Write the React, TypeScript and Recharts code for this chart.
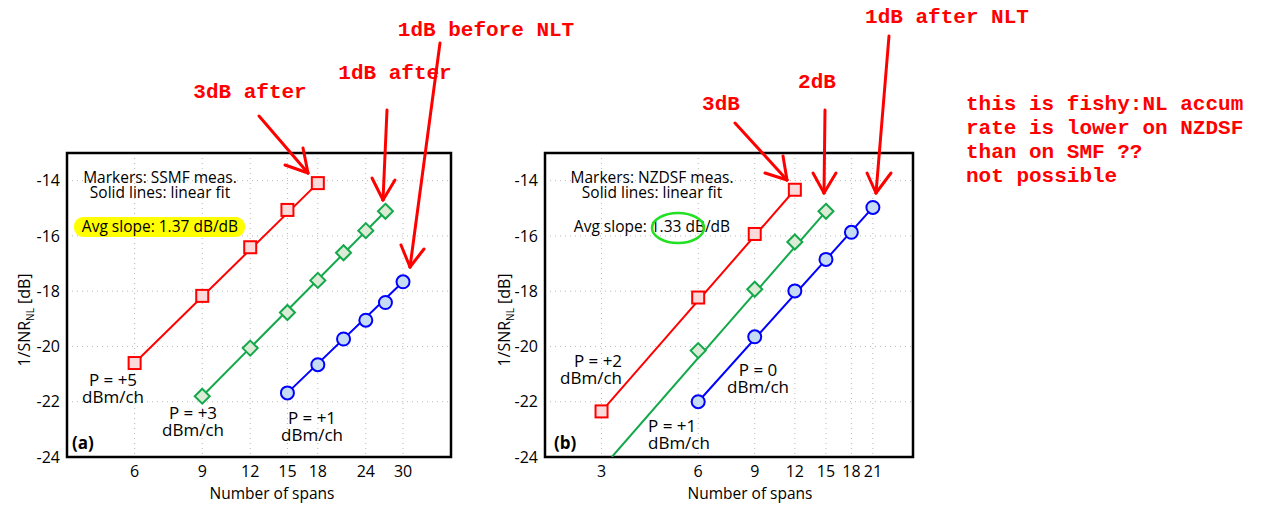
import React from 'react';
import { ComposedChart, Line, XAxis, YAxis, CartesianGrid, ReferenceArea } from 'recharts';

// panel (a): SSMF
const spansA5 = [6, 9, 12, 15, 18];
const snrA5 = [-20.6, -18.17, -16.41, -15.06, -14.09];
const spansA3 = [9, 12, 15, 18, 21, 24, 27];
const snrA3 = [-21.8, -20.06, -18.77, -17.61, -16.61, -15.81, -15.11];
const spansA1 = [15, 18, 21, 24, 27, 30];
const snrA1 = [-21.68, -20.66, -19.73, -19.05, -18.41, -17.66];

// panel (b): NZDSF
const spansB2 = [3, 6, 9, 12];
const snrB2 = [-22.35, -18.23, -15.93, -14.33];
const spansB1 = [6, 9, 12, 15];
const snrB1 = [-20.15, -17.93, -16.22, -15.11];
const spansB0 = [6, 9, 12, 15, 18, 21];
const snrB0 = [-22.0, -19.65, -17.99, -16.85, -15.87, -14.97];

// linear fit end points
const fitSpansA5 = [6, 18];
const fitSnrA5 = [-20.6, -14.09];
const fitSpansA3 = [9, 27];
const fitSnrA3 = [-21.8, -15.11];
const fitSpansA1 = [15, 30];
const fitSnrA1 = [-21.68, -17.66];
const fitSpansB2 = [3, 12];
const fitSnrB2 = [-22.35, -14.33];
const fitSpansB1 = [3.23, 15];
const fitSnrB1 = [-24, -15.11];
const fitSpansB0 = [6, 21];
const fitSnrB0 = [-22.0, -14.97];

const ticksA = [6, 9, 12, 15, 18, 24, 30];
const ticksB = [3, 6, 9, 12, 15, 18, 21];
const ticksY = [-24, -22, -20, -18, -16, -14];

const RED = '#ff0000';
const GREEN = '#13a84a';
const BLUE = '#0000ff';
const FONT = '"Open Sans", sans-serif';
const MONO = '"Liberation Mono", "DejaVu Sans Mono", monospace';

const pts = (n: number[], v: number[]) => n.map((x, i) => ({ n: x, v: v[i] }));

const Square = (p: any) => (
  <rect key={p.key ?? p.index} x={p.cx - 6} y={p.cy - 6} width={12} height={12} fill="#fadada" stroke={RED} strokeWidth={2} />
);
const Diamond = (p: any) => (
  <polygon
    key={p.key ?? p.index}
    points={`${p.cx},${p.cy - 7.5} ${p.cx + 7.5},${p.cy} ${p.cx},${p.cy + 7.5} ${p.cx - 7.5},${p.cy}`}
    fill="#dcebd6"
    stroke={GREEN}
    strokeWidth={2}
  />
);
const Circle = (p: any) => (
  <circle key={p.key ?? p.index} cx={p.cx} cy={p.cy} r={6.5} fill="#c6dcf3" stroke={BLUE} strokeWidth={2} />
);

interface S {
  fitN: number[];
  fitV: number[];
  n: number[];
  v: number[];
  color: string;
  dot: any;
}

const Panel = ({ domain, ticks, series, left, right, width }: { domain: number[]; ticks: number[]; series: S[]; left: number; right: number; width: number }) => (
  <ComposedChart width={width} height={508} margin={{ top: 153, right, bottom: 21, left }}>
    <CartesianGrid stroke="#b8b8b8" strokeDasharray="1 4" />
    <XAxis
      dataKey="n"
      type="number"
      scale="log"
      domain={domain}
      allowDataOverflow
      ticks={ticks}
      interval={0}
      tickLine={false}
      axisLine={false}
      tickSize={0}
      tickMargin={9}
      height={30}
      tick={{ fill: '#000', fontSize: 16, fontFamily: FONT }}
    />
    <YAxis
      type="number"
      domain={[-24, -13]}
      allowDataOverflow
      ticks={ticksY}
      interval={0}
      tickLine={false}
      axisLine={false}
      tickSize={0}
      tickMargin={7}
      width={50}
      tick={{ fill: '#000', fontSize: 16, fontFamily: FONT }}
    />
    <YAxis
      yAxisId="r"
      orientation="right"
      type="number"
      domain={[-24, -13]}
      ticks={ticksY}
      mirror
      width={0}
      axisLine={false}
      tickSize={5}
      tickFormatter={() => ''}
      tickLine={{ stroke: '#000', strokeWidth: 1.5 }}
    />
    <ReferenceArea x1={domain[0]} x2={domain[1]} y1={-24} y2={-13} fill="none" stroke="#000" strokeWidth={2.5} />
    {series.map((s, i) => (
      <Line
        key={`f${i}`}
        data={pts(s.fitN, s.fitV)}
        dataKey="v"
        stroke={s.color}
        strokeWidth={2}
        dot={false}
        activeDot={false}
        isAnimationActive={false}
      />
    ))}
    {series.map((s, i) => (
      <Line
        key={`m${i}`}
        data={pts(s.n, s.v)}
        dataKey="v"
        stroke="none"
        dot={s.dot}
        activeDot={false}
        isAnimationActive={false}
      />
    ))}
  </ComposedChart>
);

const seriesA: S[] = [
  { fitN: fitSpansA5, fitV: fitSnrA5, n: spansA5, v: snrA5, color: RED, dot: Square },
  { fitN: fitSpansA3, fitV: fitSnrA3, n: spansA3, v: snrA3, color: GREEN, dot: Diamond },
  { fitN: fitSpansA1, fitV: fitSnrA1, n: spansA1, v: snrA1, color: BLUE, dot: Circle },
];
const seriesB: S[] = [
  { fitN: fitSpansB2, fitV: fitSnrB2, n: spansB2, v: snrB2, color: RED, dot: Square },
  { fitN: fitSpansB1, fitV: fitSnrB1, n: spansB1, v: snrB1, color: GREEN, dot: Diamond },
  { fitN: fitSpansB0, fitV: fitSnrB0, n: spansB0, v: snrB0, color: BLUE, dot: Circle },
];

const Arrow = ({ x1, y1, x2, y2, w1, w2 }: { x1: number; y1: number; x2: number; y2: number; w1: number[]; w2: number[] }) => (
  <g stroke={RED} strokeWidth={3} strokeLinecap="round" fill="none">
    <line x1={x1} y1={y1} x2={x2} y2={y2} />
    <line x1={x2} y1={y2} x2={w1[0]} y2={w1[1]} />
    <line x1={x2} y1={y2} x2={w2[0]} y2={w2[1]} />
  </g>
);

// multi-line red note, one <text> with a tspan per line
const Note = ({ x, y, lines, anchor = 'middle', gap = 24 }: any) => (
  <text x={x} y={y} textAnchor={anchor} fill={RED} fontFamily={MONO} fontWeight="bold" fontSize={21}>
    {lines.map((l: string, i: number) => (
      <tspan key={i} x={x} dy={i === 0 ? 0 : gap}>{l}</tspan>
    ))}
  </text>
);

// multi-line black text
const T = ({ x, y, lines, size = 17, anchor = 'middle', weight = 'normal', gap = 17, xs }: any) => (
  <text x={x} y={y} textAnchor={anchor} fill="#000" fontFamily={FONT} fontSize={size} fontWeight={weight}>
    {lines.map((l: string, i: number) => (
      <tspan key={i} x={xs ? xs[i] : x} dy={i === 0 ? 0 : gap}>{l}</tspan>
    ))}
  </text>
);

const YLabel = ({ x, y }: { x: number; y: number }) => (
  <text transform={`translate(${x},${y}) rotate(-90)`} textAnchor="middle" fill="#000" fontFamily={FONT} fontSize={16}>
    1/SNR
    <tspan fontSize={10} dy={4}>NL</tspan>
    <tspan dy={-4}> [dB]</tspan>
  </text>
);

export default function App() {
  return (
    <div style={{ position: 'absolute', left: 0, top: 0, width: 1261, height: 508, background: '#fff' }}>
      <div style={{ position: 'absolute', left: 0, top: 0 }}>
        <Panel domain={[4, 40]} ticks={ticksA} series={seriesA} left={17} right={19} width={470} />
      </div>
      <div style={{ position: 'absolute', left: 470, top: 0 }}>
        <Panel domain={[2, 28]} ticks={ticksB} series={seriesB} left={25} right={7} width={450} />
      </div>
      <svg width={1261} height={508} style={{ position: 'absolute', left: 0, top: 0, pointerEvents: 'none' }}>
        {/* axis titles */}
        <YLabel x={30} y={320} />
        <YLabel x={510} y={320} />
        <T x={272} y={499} size={15.5} lines={['Number of spans']} />
        <T x={750} y={499} size={15.5} lines={['Number of spans']} />

        {/* panel (a) texts */}
        <T x={160} y={183} size={15.5} gap={15} lines={['Markers: SSMF meas.', 'Solid lines: linear fit']} />
        <rect x={74} y={217} width={171} height={20} rx={9} fill="#ffff00" />
        <T x={160} y={232} size={15.5} lines={['Avg slope: 1.37 dB/dB']} />
        <T x={113} y={386} lines={['P = +5', 'dBm/ch']} />
        <T x={193} y={419} lines={['P = +3', 'dBm/ch']} />
        <T x={312} y={424} lines={['P = +1', 'dBm/ch']} />
        <T x={72} y={449} anchor="start" weight="bold" lines={['(a)']} />

        {/* panel (b) texts */}
        <T x={652} y={183} size={15.5} gap={15} lines={['Markers: NZDSF meas.', 'Solid lines: linear fit']} />
        <T x={652} y={232} size={15.5} lines={['Avg slope: 1.33 dB/dB']} />
        <ellipse cx={678} cy={228} rx={26} ry={15} fill="none" stroke="#22e022" strokeWidth={2.5} />
        <T x={598} y={367} xs={[598, 591]} lines={['P = +2', 'dBm/ch']} />
        <T x={758} y={376} lines={['P = 0', 'dBm/ch']} />
        <T x={648} y={432} anchor="start" lines={['P = +1', 'dBm/ch']} />
        <T x={554} y={449} anchor="start" weight="bold" lines={['(b)']} />

        {/* red annotations */}
        <Note x={250} y={98} lines={['3dB after']} />
        <Note x={395} y={79} lines={['1dB after']} />
        <Note x={486} y={36} lines={['1dB before NLT']} />
        <Arrow x1={259} y1={116} x2={308} y2={173} w1={[285, 165]} w2={[303, 148]} />
        <Arrow x1={387} y1={110} x2={383} y2={200} w1={[372, 178]} w2={[395, 180]} />
        <Arrow x1={440} y1={43} x2={410} y2={267} w1={[401, 245]} w2={[424, 249]} />

        <Note x={721} y={110} lines={['3dB']} />
        <Note x={817} y={88} lines={['2dB']} />
        <Note x={947} y={23} lines={['1dB after NLT']} />
        <Arrow x1={735} y1={123} x2={787} y2={180} w1={[765, 173]} w2={[783, 156]} />
        <Arrow x1={825} y1={110} x2={824} y2={193} w1={[813, 173]} w2={[836, 173]} />
        <Arrow x1={889} y1={36} x2={876} y2={193} w1={[867, 173]} w2={[891, 173]} />

        <Note
          x={966}
          y={110}
          anchor="start"
          lines={['this is fishy:NL accum', 'rate is lower on NZDSF', 'than on SMF ??', 'not possible']}
        />
      </svg>
    </div>
  );
}
